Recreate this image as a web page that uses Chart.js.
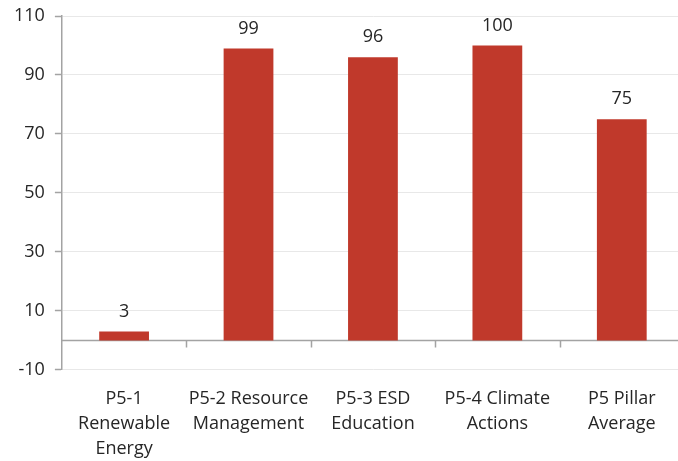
<!DOCTYPE html>
<html>
<head>
<meta charset="utf-8">
<script src="https://cdn.jsdelivr.net/npm/chart.js@4/dist/chart.umd.min.js"></script>
<style>
  html, body { margin: 0; padding: 0; overflow: hidden; background: #ffffff; }
  #wrap { width: 690px; height: 477px; }
</style>
</head>
<body>
<div id="wrap"><canvas id="chart" width="690" height="477"></canvas></div>
<script>
// Pillar 5 indicator scores
const categories = [
  ['P5-1', 'Renewable', 'Energy'],
  ['P5-2 Resource', 'Management'],
  ['P5-3 ESD', 'Education'],
  ['P5-4 Climate', 'Actions'],
  ['P5 Pillar', 'Average']
];
const scores = [3, 99, 96, 100, 75];
const yMin = -10;
const yMax = 110;
const yStep = 20;

const AXIS_GRAY = '#A3A3A3';
const GRID_GRAY = '#E8E8E8';
const TEXT = '#262626';
const FONT = '"Open Sans", sans-serif';

// Baseline at zero with category separator ticks hanging below it
const zeroAxis = {
  id: 'zeroAxis',
  beforeDatasetsDraw(chart) {
    const { ctx, chartArea, scales } = chart;
    const y0 = Math.round(scales.y.getPixelForValue(0)) + 0.5;
    ctx.save();
    ctx.strokeStyle = AXIS_GRAY;
    ctx.lineWidth = 1.5;
    ctx.beginPath();
    ctx.moveTo(chartArea.left, y0);
    ctx.lineTo(chartArea.right, y0);
    for (let i = 1; i <= categories.length; i++) {
      const x = Math.round(scales.x.getPixelForValue(i - 0.5)) + 0.5;
      ctx.moveTo(x, y0);
      ctx.lineTo(x, y0 + 7);
    }
    ctx.stroke();
    ctx.restore();
  }
};

// Value labels above each bar
const valueLabels = {
  id: 'valueLabels',
  afterDatasetsDraw(chart) {
    const { ctx } = chart;
    const meta = chart.getDatasetMeta(0);
    ctx.save();
    ctx.fillStyle = TEXT;
    ctx.font = '18px ' + FONT;
    ctx.textAlign = 'center';
    ctx.textBaseline = 'bottom';
    meta.data.forEach((bar, i) => {
      ctx.fillText(String(scores[i]), bar.x, bar.y - 11);
    });
    ctx.restore();
  }
};

new Chart(document.getElementById('chart'), {
  type: 'bar',
  data: {
    labels: categories,
    datasets: [{
      data: scores,
      backgroundColor: '#C0392B',
      borderWidth: 0,
      barPercentage: 0.4,
      categoryPercentage: 1.0
    }]
  },
  options: {
    responsive: false,
    animation: false,
    layout: { padding: { left: 4, right: 6, top: 16, bottom: 0 } },
    plugins: {
      legend: { display: false },
      tooltip: { enabled: false }
    },
    scales: {
      x: {
        grid: { display: false, drawTicks: false },
        border: { display: false },
        ticks: {
          color: TEXT,
          font: { family: FONT, size: 18, lineHeight: 1.39 },
          padding: 16,
          maxRotation: 0,
          autoSkip: false
        }
      },
      y: {
        min: yMin,
        max: yMax,
        grid: {
          color: GRID_GRAY,
          lineWidth: 1,
          tickColor: AXIS_GRAY,
          tickLength: 7,
          tickWidth: 1.5
        },
        border: { display: true, color: AXIS_GRAY, width: 1.5 },
        ticks: {
          stepSize: yStep,
          color: TEXT,
          font: { family: FONT, size: 18, lineHeight: 0.6 },
          padding: 10
        }
      }
    }
  },
  plugins: [zeroAxis, valueLabels]
});
</script>
</body>
</html>
